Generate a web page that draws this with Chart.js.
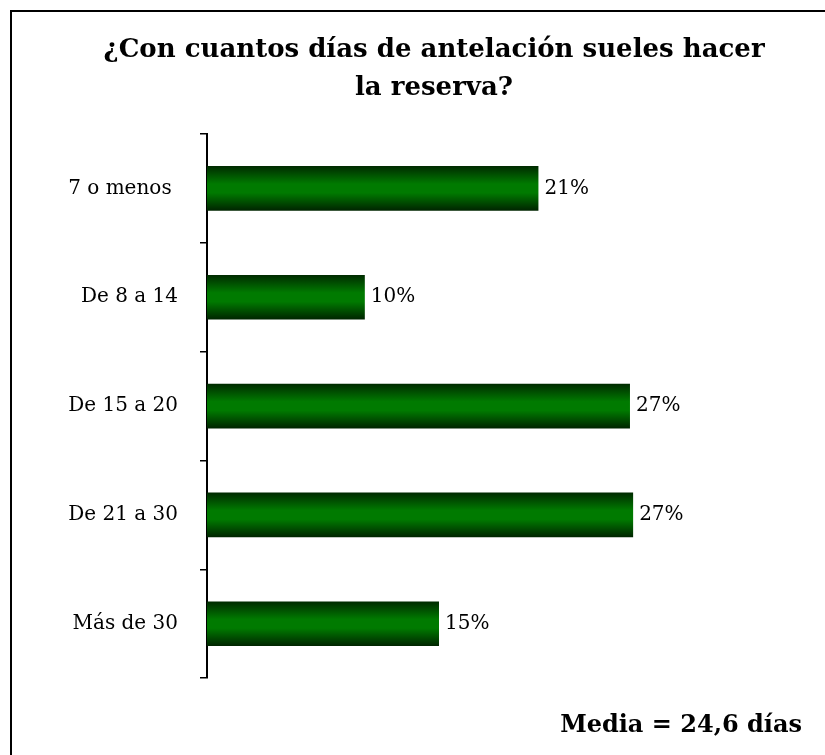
<!DOCTYPE html>
<html>
<head>
<meta charset="utf-8">
<script src="https://cdn.jsdelivr.net/npm/chart.js@4"></script>
<style>
  body { margin: 0; background: #fff; }
  #marco { position: absolute; left: 10px; top: 10px; width: 900px; height: 900px; border: 2px solid #000; }
  #lienzo { position: absolute; left: 0; top: 0; }
</style>
</head>
<body>
<div id="marco"></div>
<canvas id="lienzo" width="825" height="755"></canvas>
<script>
var categorias = ["7 o menos ", "De 8 a 14", "De 15 a 20", "De 21 a 30", "Más de 30"];
var porcentajes = [21.0, 10.0, 26.8, 27.0, 14.7];
var titulo = ["¿Con cuantos días de antelación sueles hacer", "la reserva?"];
var nota = "Media = 24,6 días";

var fuente = "'DejaVu Serif', 'Liberation Serif', serif";
var anchoBarra = 0.41;

function colorBarra(c) {
  var chart = c.chart;
  var escala = chart.scales.y;
  if (!chart.chartArea || !escala) return "#007000";
  var centro = escala.getPixelForValue(c.dataIndex);
  var mitad = (chart.chartArea.height / categorias.length) * anchoBarra / 2;
  if (!isFinite(centro) || !isFinite(mitad)) return "#007000";
  var g = chart.ctx.createLinearGradient(0, centro - mitad, 0, centro + mitad);
  g.addColorStop(0, "#002a00");
  g.addColorStop(0.4, "#007a00");
  g.addColorStop(0.6, "#007a00");
  g.addColorStop(1, "#002400");
  return g;
}

var etiquetas = {
  id: "etiquetas",
  afterDatasetsDraw: function (chart) {
    var ctx = chart.ctx;
    var meta = chart.getDatasetMeta(0);
    ctx.save();
    ctx.font = "20px " + fuente;
    ctx.fillStyle = "#000";
    ctx.textAlign = "left";
    ctx.textBaseline = "middle";
    meta.data.forEach(function (barra, i) {
      ctx.fillText(Math.round(porcentajes[i]) + "%", barra.x + 6, barra.y);
    });
    ctx.restore();
  }
};

var ctx = document.getElementById("lienzo").getContext("2d");
new Chart(ctx, {
  type: "bar",
  data: {
    labels: categorias,
    datasets: [{
      data: porcentajes,
      backgroundColor: colorBarra,
      borderWidth: 0,
      barPercentage: anchoBarra,
      categoryPercentage: 1
    }]
  },
  options: {
    indexAxis: "y",
    responsive: false,
    animation: false,
    layout: { padding: { left: 66, right: 23, top: 0, bottom: 0 } },
    scales: {
      x: { display: false, min: 0, max: 37.7 },
      y: {
        afterFit: function (s) { s.width = 141; },
        grid: { drawOnChartArea: false, drawTicks: true, tickLength: 7, offset: true, color: "#000", lineWidth: 1.5 },
        border: { display: true, color: "#000", width: 2 },
        ticks: { color: "#000", font: { family: fuente, size: 20 }, padding: 22 }
      }
    },
    plugins: {
      legend: { display: false },
      tooltip: { enabled: false },
      title: {
        display: true,
        text: titulo,
        color: "#000",
        font: { family: fuente, size: 26, weight: "bold", lineHeight: 1.46 },
        padding: { top: 31, bottom: 27 }
      },
      subtitle: {
        display: true,
        position: "bottom",
        align: "end",
        text: nota,
        color: "#000",
        font: { family: fuente, size: 24, weight: "bold", lineHeight: 1.2 },
        padding: { top: 33, bottom: 15 }
      }
    }
  },
  plugins: [etiquetas]
});
</script>
</body>
</html>
